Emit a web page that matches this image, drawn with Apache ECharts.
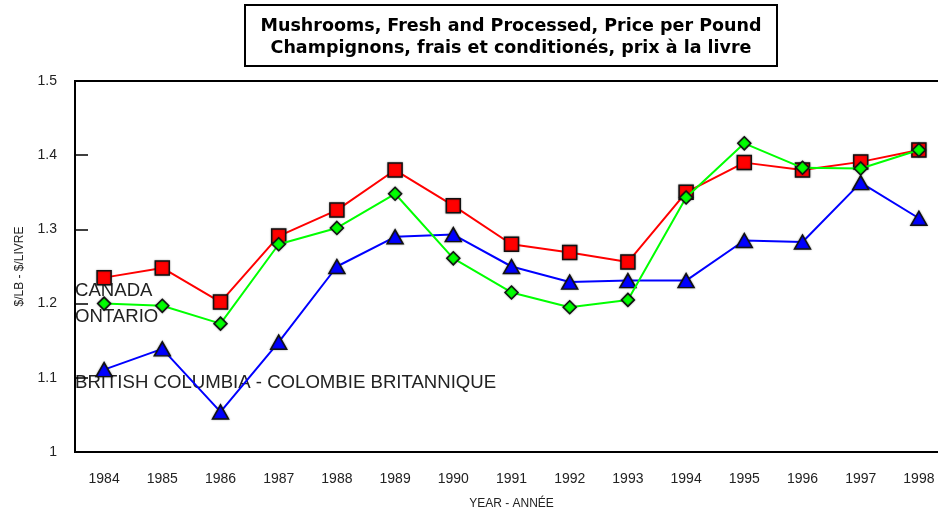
<!DOCTYPE html>
<html>
<head>
    <meta charset="utf-8">
    <title>Mushrooms price</title>
    <script src="https://cdn.jsdelivr.net/npm/echarts@6/dist/echarts.min.js"></script>
</head>
<body style="margin:0">
    <div id="main" style="width: 938px;height:513px;"></div>

<script>
// years on the x axis
var years = ['1984','1985','1986','1987','1988','1989','1990','1991','1992','1993','1994','1995','1996','1997','1998'];
// $/lb
var canada  = [1.235, 1.248, 1.202, 1.291, 1.326, 1.380, 1.332, 1.280, 1.269, 1.256, 1.350, 1.390, 1.380, 1.391, 1.407];
var ontario = [1.200, 1.197, 1.173, 1.280, 1.302, 1.348, 1.261, 1.215, 1.195, 1.205, 1.343, 1.416, 1.383, 1.382, 1.407];
var bc      = [1.111, 1.139, 1.054, 1.148, 1.250, 1.290, 1.293, 1.250, 1.229, 1.231, 1.231, 1.285, 1.283, 1.363, 1.315];

var FONT = 'Arial, "Liberation Sans", sans-serif';
var myChart = echarts.init(document.getElementById('main'));

myChart.setOption({
    animation: false,
    backgroundColor: '#fff',
    title: {
        text: 'Mushrooms, Fresh and Processed, Price per Pound\nChampignons, frais et conditionés, prix à la livre',
        left: 495,
        top: 5,
        textAlign: 'center',
        padding: [10, 16, 7, 16],
        borderColor: '#000',
        borderWidth: 2,
        textStyle: {
            fontFamily: '"DejaVu Sans", sans-serif',
            fontSize: 17.5,
            fontWeight: 'bold',
            color: '#000',
            lineHeight: 22
        }
    },
    grid: {
        left: 75,
        right: -10,
        top: 81,
        bottom: 61,
        outerBoundsMode: 'none',
        show: true,
        borderColor: '#000',
        borderWidth: 2
    },
    xAxis: {
        type: 'category',
        data: years,
        boundaryGap: true,
        name: 'YEAR - ANNÉE',
        nameLocation: 'middle',
        nameGap: 46,
        nameTextStyle: { fontFamily: FONT, fontSize: 12, color: '#222' },
        axisLine: { lineStyle: { color: '#000', width: 2 } },
        axisTick: { inside: true, alignWithLabel: true, length: 13, lineStyle: { color: '#000', width: 1.5 } },
        axisLabel: { margin: 20, fontFamily: FONT, fontSize: 14, color: '#222' },
        splitLine: { show: false }
    },
    yAxis: {
        type: 'value',
        min: 1,
        max: 1.5,
        interval: 0.1,
        name: '$/LB - $/LIVRE',
        nameLocation: 'middle',
        nameRotate: 90,
        nameGap: 49,
        nameTextStyle: { fontFamily: FONT, fontSize: 12, color: '#222' },
        axisLine: { show: true, lineStyle: { color: '#000', width: 2 } },
        axisTick: { show: true, inside: true, length: 13, lineStyle: { color: '#000', width: 1.5 } },
        axisLabel: {
            margin: 18, fontFamily: FONT, fontSize: 14, color: '#222',
            padding: [5, 0, 0, 0],
            formatter: function (v) { return String(Math.round(v * 10) / 10); }
        },
        splitLine: { show: false }
    },
    graphic: [
        { type: 'text', x: 75, y: 291, style: { text: 'CANADA', fontFamily: FONT, fontSize: 18.6, fill: '#222', verticalAlign: 'middle' } },
        { type: 'text', x: 75, y: 317, style: { text: 'ONTARIO', fontFamily: FONT, fontSize: 18.6, fill: '#222', verticalAlign: 'middle' } },
        { type: 'text', x: 75, y: 383, style: { text: 'BRITISH COLUMBIA - COLOMBIE BRITANNIQUE', fontFamily: FONT, fontSize: 18.6, fill: '#222', verticalAlign: 'middle' } }
    ],
    series: [
        {
            name: 'CANADA',
            type: 'line',
            data: canada,
            z: 2,
            symbol: 'rect',
            symbolSize: 14,
            lineStyle: { color: '#ff0000', width: 2 },
            itemStyle: { color: '#ff0000', borderColor: '#111', borderWidth: 1.5, shadowColor: 'rgba(0,0,0,0.35)', shadowBlur: 2 }
        },
        {
            name: 'BRITISH COLUMBIA',
            type: 'line',
            data: bc,
            z: 3,
            symbol: 'triangle',
            symbolSize: [16, 14],
            lineStyle: { color: '#0000ff', width: 2 },
            itemStyle: { color: '#0000ff', borderColor: '#111', borderWidth: 1.5, shadowColor: 'rgba(0,0,0,0.35)', shadowBlur: 2 }
        },
        {
            name: 'ONTARIO',
            type: 'line',
            data: ontario,
            z: 4,
            symbol: 'diamond',
            symbolSize: 13,
            lineStyle: { color: '#00ff00', width: 2 },
            itemStyle: { color: '#00ff00', borderColor: '#111', borderWidth: 1.5, shadowColor: 'rgba(0,0,0,0.35)', shadowBlur: 2 }
        }
    ]
});
</script>

</body>
</html>
